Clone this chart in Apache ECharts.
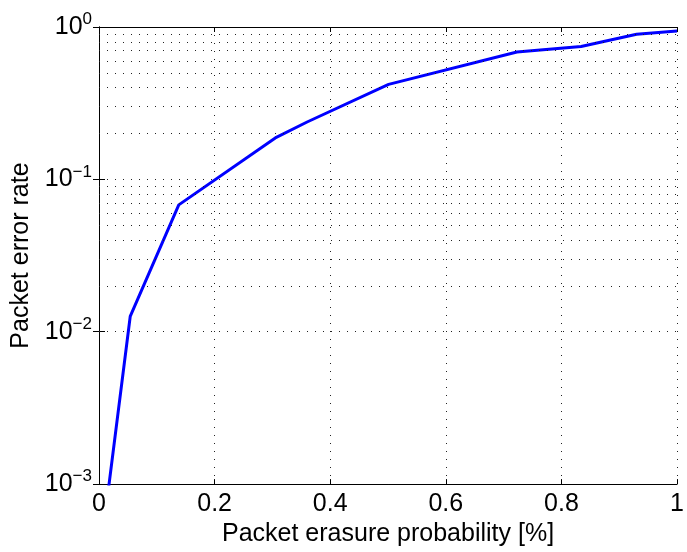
<!DOCTYPE html>
<html>
<head>
<meta charset="utf-8">
<script src="https://cdn.jsdelivr.net/npm/echarts@6/dist/echarts.min.js"></script>
<style>
  html, body { margin: 0; padding: 0; background: #fff; }
  #main { width: 687px; height: 552px; }
</style>
</head>
<body>
<div id="main"></div>
<script>
// erasure probability [%] and packet error rate
const erasureProb = [0, 0.054, 0.138, 0.305, 0.36, 0.501, 0.723, 0.834, 0.93, 1.0];
const packetErrorRate = [0.0003, 0.0126, 0.068, 0.187, 0.238, 0.42, 0.685, 0.745, 0.897, 0.942];

// minor log grid lines (2..9 per decade)
const decades = [0.001, 0.01, 0.1];
const minorSteps = [2, 3, 4, 5, 6, 7, 8, 9];

const font = 'Liberation Sans, Arial, Helvetica, sans-serif';
const dotted = { color: '#222', width: 1, type: [1, 7] };

const minorLines = [];
decades.forEach(d => minorSteps.forEach(m => minorLines.push({ yAxis: d * m })));

function logLabel(v) {
  const e = Math.round(Math.log10(v));
  return '{b|10}{e|' + (e < 0 ? '\u2212' + (-e) : e) + '}';
}

const chart = echarts.init(document.getElementById('main'));

const xCommon = {
  type: 'value',
  min: 0,
  max: 1,
  interval: 0.2,
  axisLine: { show: true, lineStyle: { color: '#000', width: 1 } },
  axisTick: { show: true, inside: true, length: 5, lineStyle: { color: '#000' } }
};

const yCommon = {
  type: 'log',
  logBase: 10,
  min: 0.001,
  max: 1,
  interval: 1,
  axisLine: { show: true, lineStyle: { color: '#000', width: 1 } },
  axisTick: { show: true, inside: true, length: 6, lineStyle: { color: '#000' } }
};

chart.setOption({
  animation: false,
  textStyle: { fontFamily: font },
  grid: { left: 99, top: 27, right: 1, bottom: 63, containLabel: false },
  xAxis: [
    Object.assign({}, xCommon, {
      position: 'bottom',
      name: 'Packet erasure probability [%]',
      nameLocation: 'middle',
      nameGap: 35,
      nameTextStyle: { fontSize: 25, color: '#000', fontFamily: font },
      axisLabel: {
        fontSize: 25, color: '#000', margin: 8, fontFamily: font,
        formatter: v => String(Math.round(v * 10) / 10)
      },
      splitLine: { show: true, lineStyle: dotted }
    }),
    Object.assign({}, xCommon, {
      position: 'top',
      axisLabel: { show: false },
      splitLine: { show: false }
    })
  ],
  yAxis: [
    Object.assign({}, yCommon, {
      position: 'left',
      name: 'Packet error rate',
      nameLocation: 'middle',
      nameGap: 58,
      nameTextStyle: { fontSize: 25, color: '#000', fontFamily: font },
      axisLabel: {
        color: '#000', margin: 7,
        formatter: logLabel,
        rich: {
          b: { fontSize: 25, fontFamily: font, color: '#000' },
          e: { fontSize: 17, fontFamily: font, color: '#000', padding: [0, 0, 15, 0] }
        }
      },
      splitLine: { show: true, lineStyle: dotted }
    }),
    Object.assign({}, yCommon, {
      position: 'right',
      axisLabel: { show: false },
      splitLine: { show: false }
    })
  ],
  series: [{
    type: 'line',
    data: erasureProb.map((x, i) => [x, packetErrorRate[i]]),
    showSymbol: false,
    symbol: 'none',
    clip: true,
    lineStyle: { color: '#0000ff', width: 3 },
    markLine: {
      silent: true,
      symbol: 'none',
      label: { show: false },
      lineStyle: dotted,
      data: minorLines
    }
  }]
});
</script>
</body>
</html>
